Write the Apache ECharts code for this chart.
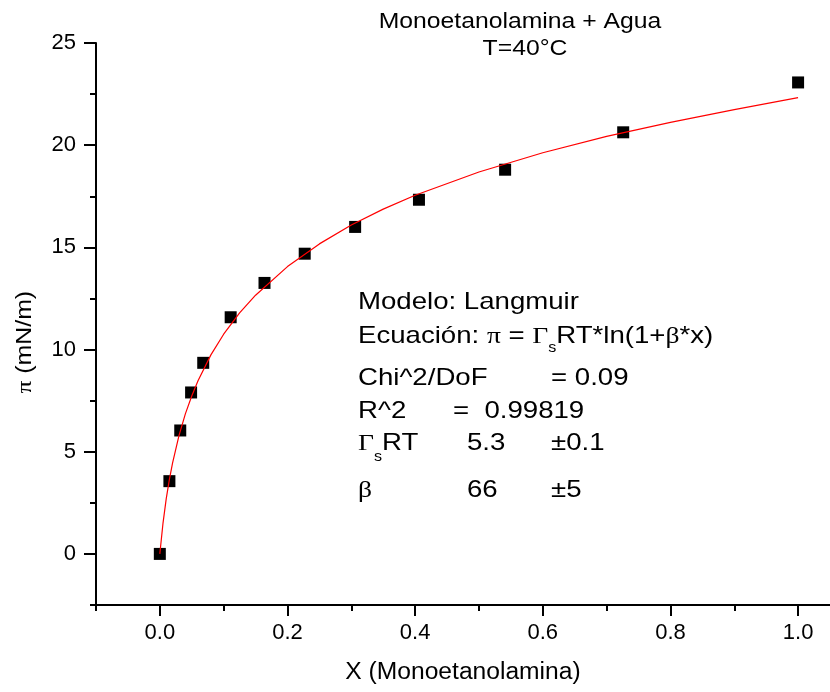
<!DOCTYPE html>
<html>
<head>
<meta charset="utf-8">
<script src="https://cdn.jsdelivr.net/npm/echarts@6/dist/echarts.min.js"></script>
<style>html,body{margin:0;padding:0;background:#fff}#c{width:830px;height:692px}</style>
</head>
<body>
<div id="c"></div>
<script>
// ---- data ----
const xData = [0, 0.015, 0.032, 0.049, 0.068, 0.111, 0.164, 0.227, 0.306, 0.406, 0.541, 0.726, 1.0];
const yData = [0, 3.56, 6.04, 7.90, 9.35, 11.58, 13.26, 14.69, 16.0, 17.33, 18.8, 20.63, 23.07];
// fitted Langmuir curve
const fitX = [0, 0.005, 0.01, 0.015, 0.02, 0.03, 0.04, 0.05, 0.06, 0.08, 0.1, 0.125, 0.15, 0.2, 0.25, 0.3, 0.35, 0.4, 0.5, 0.6, 0.7, 0.8, 0.9, 1.0];
const fitY = [0, 1.51, 2.69, 3.65, 4.46, 5.79, 6.85, 7.73, 8.49, 9.74, 10.75, 11.79, 12.66, 14.06, 15.17, 16.09, 16.87, 17.55, 18.69, 19.63, 20.43, 21.12, 21.74, 22.33];
const xMajor = [0, 0.2, 0.4, 0.6, 0.8, 1.0];
const xMinor = [-0.1, 0.1, 0.3, 0.5, 0.7, 0.9];
const yMajor = [0, 5, 10, 15, 20, 25];
const yMinor = [-2.5, 2.5, 7.5, 12.5, 17.5, 22.5];
const titleLines = ['Monoetanolamina + Agua', 'T=40°C'];
const xName = 'X (Monoetanolamina)';

const SANS = 'Liberation Sans';
const SERIF = 'Liberation Serif';
const cv = document.createElement('canvas').getContext('2d');
function measure(t, size, fam) { cv.font = size + 'px "' + fam + '"'; return cv.measureText(t).width; }
const graphics = [];
// place a run of text segments starting at x0 on baseline 'base'
function run(x0, base, parts, scale, size) {
  let x = x0;
  parts.forEach(p => {
    const sz = p.size || size, fam = p.fam || SANS;
    graphics.push({type: 'text', x: x, y: base + (p.dy || 0) - 0.3465 * sz, scaleX: scale, z: 100,
      style: {text: p.t, fontSize: sz, fontFamily: fam, fill: '#000', align: 'left', verticalAlign: 'middle'}});
    x += measure(p.t, sz, fam) * scale;
  });
}
function runWidth(parts, scale, size) {
  return parts.reduce((s, p) => s + measure(p.t, p.size || size, p.fam || SANS) * scale, 0);
}
function centered(cx, base, parts, scale, size) {
  run(cx - runWidth(parts, scale, size) / 2, base, parts, scale, size);
}

// title
centered(520, 30, [{t: titleLines[0]}], 1.15, 21.5);
centered(525, 57, [{t: titleLines[1]}], 1.15, 21.5);
// x axis name
centered(463, 681, [{t: xName}], 1.07, 23);
// y axis name (rotated)
(function () {
  const sc = 1.13, sz = 22;
  const parts = [{t: 'π', fam: SERIF}, {t: ' (mN/m)'}];
  const w = runWidth(parts, sc, sz);
  const children = [];
  let x = -w / 2;
  parts.forEach(p => {
    const fam = p.fam || SANS;
    children.push({type: 'text', x: x, y: 0, scaleX: sc,
      style: {text: p.t, fontSize: sz, fontFamily: fam, fill: '#000', align: 'left', verticalAlign: 'middle'}});
    x += measure(p.t, sz, fam) * sc;
  });
  graphics.push({type: 'group', x: 25, y: 342, rotation: Math.PI / 2, children: children});
})();

// fit annotation
const S = 1.15, F = 24;
run(358, 311, [{t: 'Modelo: Langmuir'}], S, F);
run(358, 345, [{t: 'Ecuación: '}, {t: 'π', fam: SERIF}, {t: ' = '}, {t: 'Γ', fam: SERIF}, {t: 's', size: 14, dy: 8}, {t: 'RT*ln(1+'}, {t: 'β', fam: SERIF}, {t: '*x)'}], S, F);
run(358, 387, [{t: 'Chi^2/DoF'}], S, F);
run(551, 387, [{t: '= 0.09'}], S, F);
run(358, 420, [{t: 'R^2'}], S, F);
run(453, 420, [{t: '=  0.99819'}], S, F);
run(358, 452, [{t: 'Γ', fam: SERIF}, {t: 's', size: 14, dy: 10}, {t: 'RT'}], S, F);
run(467, 452, [{t: '5.3'}], S, F);
run(551, 452, [{t: '±0.1'}], S, F);
run(358, 499, [{t: 'β', fam: SERIF}], S, F);
run(467, 499, [{t: '66'}], S, F);
run(551, 499, [{t: '±5'}], S, F);

const black = '#000';
const axisBase = {type: 'value', splitLine: {show: false}};
const option = {
  animation: false,
  backgroundColor: '#fff',
  grid: {left: 96, right: 0, top: 43, bottom: 87, containLabel: false},
  xAxis: [
    Object.assign({}, axisBase, {min: -0.1, max: 1.05, position: 'bottom',
      axisLine: {show: true, onZero: false, lineStyle: {color: black, width: 2}},
      axisTick: {show: true, length: 11, lineStyle: {color: black, width: 2}, customValues: xMajor},
      axisLabel: {show: true, customValues: xMajor, formatter: v => Number(v).toFixed(1), fontSize: 22, fontFamily: SANS, color: black, margin: 17}}),
    Object.assign({}, axisBase, {min: -0.1, max: 1.05, position: 'bottom',
      axisLine: {show: false, onZero: false},
      axisTick: {show: true, length: 6, lineStyle: {color: black, width: 2}, customValues: xMinor},
      axisLabel: {show: false}})
  ],
  yAxis: [
    Object.assign({}, axisBase, {min: -2.5, max: 25, position: 'left',
      axisLine: {show: true, onZero: false, lineStyle: {color: black, width: 2}},
      axisTick: {show: true, length: 12, lineStyle: {color: black, width: 2}, customValues: yMajor},
      axisLabel: {show: true, customValues: yMajor, formatter: v => String(v), fontSize: 22, fontFamily: SANS, color: black, margin: 20}}),
    Object.assign({}, axisBase, {min: -2.5, max: 25, position: 'left',
      axisLine: {show: false, onZero: false},
      axisTick: {show: true, length: 6, lineStyle: {color: black, width: 2}, customValues: yMinor},
      axisLabel: {show: false}})
  ],
  series: [
    {type: 'scatter', xAxisIndex: 0, yAxisIndex: 0, symbol: 'rect', symbolSize: 12,
      itemStyle: {color: black, opacity: 1}, z: 2, data: xData.map((x, i) => [x, yData[i]])},
    {type: 'line', xAxisIndex: 0, yAxisIndex: 0, showSymbol: false, symbol: 'none', z: 3,
      lineStyle: {color: '#ff0000', width: 1.2}, data: fitX.map((x, i) => [x, fitY[i]])}
  ],
  graphic: graphics
};
const chart = echarts.init(document.getElementById('c'), null, {renderer: 'canvas'});
chart.setOption(option);
</script>
</body>
</html>
